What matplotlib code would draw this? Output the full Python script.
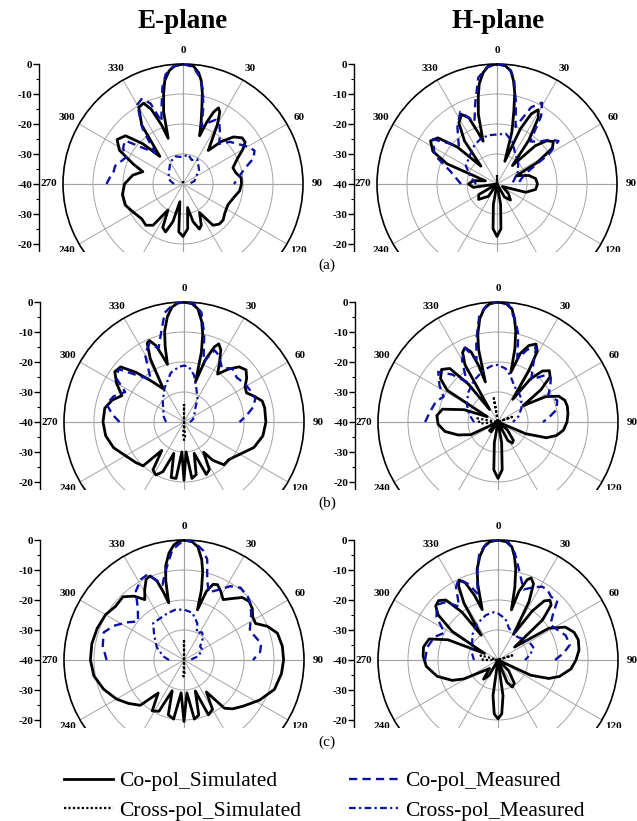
import numpy as np
import matplotlib.pyplot as plt
from matplotlib.lines import Line2D
from matplotlib.patches import Rectangle

plt.rcParams['font.family'] = ['Liberation Serif', 'DejaVu Serif']

# ---- data: (angle in degrees clockwise from broadside, level in dB) ----
EA_CO_SIM = [(0, 0), (5, -0.5), (8, -2.5), (10, -5), (12, -9), (14, -14), (16, -18), (18, -21.5), (19, -23),
             (21, -18), (23, -14), (25, -12), (27, -13), (30, -17), (33, -22), (37, -26),
             (42, -21), (47, -17), (52, -15), (56, -15), (60, -17), (65, -20), (72, -22.5), (78, -22),
             (84, -20.5), (90, -20.5), (97, -21), (105, -22.5), (115, -23.5), (125, -23), (132, -22),
             (138, -22), (144, -23), (150, -29), (156, -25), (160, -24), (165, -27), (169, -32), (174, -25),
             (180, -22.5), (185, -24), (190, -34), (195, -27), (200, -23), (205, -24), (210, -30), (216, -23),
             (222, -21.5), (230, -22), (240, -21), (250, -19.5), (260, -19.5), (270, -20.5), (280, -23),
             (287, -26), (292, -22), (298, -16), (304, -13.5), (310, -15), (315, -21), (320, -28), (325, -16),
             (330, -10.5), (334, -10), (337, -13), (340, -19), (342, -24), (345, -15), (348, -9), (350, -5),
             (353, -2), (356, -0.5), (360, 0)]
EA_CO_MEA = [(-90, -14.5), (-85, -15.5), (-80, -16.5), (-75, -16.6), (-70, -18), (-65, -19), (-60, -17),
             (-57, -16.4), (-53, -16), (-48, -22), (-42, -26), (-36, -17), (-30, -9.5), (-26, -8.5), (-22, -11),
             (-19, -18), (-16, -14), (-12, -7), (-9, -3), (-5, -0.8), (0, 0), (5, -0.8), (9, -4), (12, -8),
             (15, -14), (18, -20), (22, -18), (27, -16), (31, -16.5), (36, -19), (42, -22), (48, -19), (55, -17),
             (60, -15), (65, -13.7), (70, -15), (76, -18.8), (82, -21), (90, -23)]
EA_X_SIM = [(0, -39), (45, -40), (90, -40), (135, -40), (180, -40), (225, -40), (270, -40), (315, -40), (360, -39)]
EA_X_MEA = [(-90, -37), (-75, -35.5), (-60, -34.5), (-45, -33.5), (-30, -31.5), (-15, -30.5), (0, -31), (10, -30),
            (20, -31.5), (30, -30.5), (40, -32), (50, -33), (60, -35), (75, -36), (90, -38)]

HA_CO_SIM = [(0, 0), (4, -0.5), (7, -2), (9, -5), (11, -9), (13, -15), (16, -22), (19, -32), (23, -20), (26, -14),
             (29, -11.7), (32, -14), (36, -22), (40, -32), (45, -22), (49, -18), (53, -16.5), (57, -18), (62, -25),
             (67, -33), (75, -29), (82, -27), (90, -26.5), (98, -27), (106, -30), (115, -38), (130, -35),
             (140, -33), (150, -35), (160, -40), (170, -33), (175, -25), (180, -22.5), (185, -25), (190, -33),
             (200, -40), (215, -35), (230, -32), (240, -33), (250, -40), (262, -32), (270, -30.5), (278, -32),
             (285, -36), (292, -22), (297, -16), (303, -13.6), (308, -15), (313, -22), (318, -32), (323, -22),
             (328, -16), (333, -14), (337, -16), (340, -22), (342, -25), (345, -16), (348, -10), (350, -6),
             (353, -2.5), (356, -0.5), (360, 0)]
HA_CO_MEA = [(-90, -28), (-75, -24), (-65, -17), (-55, -14), (-45, -22), (-35, -17), (-27, -13), (-20, -18),
             (-15, -12), (-10, -4), (-5, -1), (0, 0), (5, -0.5), (9, -4), (13, -12), (18, -20), (24, -12),
             (29, -9), (33, -13), (38, -22), (45, -20), (50, -17), (55, -15), (60, -20), (70, -30), (80, -32),
             (90, -33)]
HA_X_SIM = [(0, -37), (5, -40), (90, -40), (180, -40), (270, -40), (355, -40), (360, -37)]
HA_X_MEA = [(-90, -33), (-75, -31), (-60, -28), (-45, -27), (-30, -25), (-20, -24), (-10, -23.5), (0, -23.5),
            (10, -23), (20, -25), (30, -28), (45, -30), (60, -32), (75, -34), (90, -35)]

EB_CO_SIM = [(0, 0), (4, -0.5), (7, -2), (10, -6), (12, -10), (14, -16), (16, -26), (19, -18), (22, -13),
             (24, -11.5), (27, -13), (31, -17), (35, -20.5), (40, -17), (45, -14), (50, -13), (55, -14.5),
             (60, -16.5), (65, -17), (70, -15), (75, -13), (80, -12.7), (90, -12.7), (100, -13.3), (110, -15.2),
             (120, -18.5), (130, -20.5), (137, -20.5), (143, -24), (147, -28), (152, -22), (157, -21), (162, -29),
             (167, -22), (172, -21), (176, -30), (180, -20.6), (184, -30), (188, -21), (193, -21), (198, -29),
             (203, -22), (208, -20), (213, -21), (218, -28), (223, -20), (230, -19), (240, -17.5), (250, -15),
             (260, -13.5), (270, -13), (280, -13.2), (287, -15), (293, -17.5), (300, -14), (306, -11.5),
             (311, -12), (316, -17), (322, -23), (328, -27), (332, -16), (335, -11), (337, -10.5), (340, -13),
             (342, -17), (344, -20), (346, -14), (348, -9), (351, -4.5), (354, -1.5), (357, -0.3), (360, 0)]
EB_CO_MEA = [(-90, -18.5), (-84, -16), (-77, -13.5), (-70, -15), (-63, -18), (-57, -13), (-51, -12), (-45, -18),
             (-38, -22), (-30, -14), (-24, -11.5), (-19, -14), (-15, -10), (-10, -3), (-5, -0.5), (0, 0),
             (5, -0.5), (9, -3), (13, -10), (18, -19), (23, -14), (28, -15), (35, -18), (42, -16), (50, -17),
             (58, -16), (65, -15.5), (72, -15), (78, -16.5), (84, -19), (90, -21.5)]
EB_X_SIM = [(0, -34), (6, -40), (170, -40), (176, -35), (180, -34), (184, -36), (190, -40), (354, -40), (360, -34)]
EB_X_MEA = [(-90, -34), (-75, -33), (-60, -32), (-45, -30), (-30, -27), (-15, -23), (-5, -21.5), (0, -21.2),
            (5, -21.5), (12, -24), (20, -28), (30, -31), (45, -35), (60, -36), (75, -37), (90, -38)]

HB_CO_SIM = [(0, 0), (4, -0.5), (7, -2), (9, -5), (11, -9), (13, -15), (14.5, -23), (18, -16), (22, -12.5),
             (26, -11.1), (29, -13), (31, -20), (33, -31), (37, -22), (41, -17.5), (45, -15.8), (49, -17),
             (53, -22), (57, -30), (62, -22), (67, -18), (72, -16.6), (77, -16.3), (83, -16.5), (90, -17),
             (97, -18), (103, -20), (108, -23), (113, -30), (118, -40), (130, -36), (140, -32), (146, -31.5),
             (152, -33), (160, -40), (170, -33), (175, -24), (180, -21.2), (185, -24), (190, -33), (200, -40),
             (215, -36), (225, -36), (235, -40), (245, -30), (252, -26), (260, -22), (268, -20), (276, -19.5),
             (283, -21), (290, -28), (296, -36), (302, -20), (307, -16), (313, -14.3), (318, -16), (322, -24),
             (326, -35), (330, -18), (333, -14), (336, -12.9), (339, -15), (341, -20), (342.5, -26), (345, -15),
             (347, -10), (350, -5), (353, -2), (356, -0.5), (360, 0)]
HB_CO_MEA = [(-90, -15.7), (-82, -17), (-72, -18.2), (-65, -20), (-58, -17), (-50, -14), (-44, -18), (-38, -23),
             (-30, -16), (-24, -13), (-19, -18), (-15, -12), (-10, -4), (-5, -0.5), (0, 0), (5, -0.5), (10, -6),
             (13, -10), (17, -18), (22, -14), (27, -12), (32, -18), (38, -22), (45, -18), (50, -17), (56, -19),
             (62, -21), (70, -19), (78, -20), (85, -23), (90, -25)]
HB_X_SIM = [(0, -40), (60, -40), (70, -35), (80, -40), (250, -40), (265, -34), (280, -33), (295, -40),
            (340, -40), (350, -32), (360, -40)]
HB_X_MEA = [(-90, -32), (-75, -30), (-60, -28), (-45, -26), (-30, -24), (-15, -22), (-5, -21), (0, -21), (8, -22),
            (15, -24), (25, -27), (35, -28), (45, -29), (60, -31), (75, -33), (90, -35)]

EC_CO_SIM = [(0, 0), (4, -0.5), (7, -2), (10, -6), (12, -10), (14, -16), (15, -22.7), (18, -16), (21, -13),
             (24, -12.5), (28, -14), (33, -16), (38, -14), (43, -11.5), (48, -10.8), (53, -11.5), (58, -13),
             (63, -13.2), (68, -10), (74, -7.6), (82, -6.9), (90, -6.8), (98, -7.2), (108, -8.3), (118, -11.5),
             (128, -15), (135, -17), (140, -19), (145, -27), (150, -21), (156, -20), (160, -29), (165, -21),
             (170, -20), (175, -29), (180, -19.5), (185, -29), (190, -20), (196, -21), (201, -29), (206, -21),
             (212, -20), (218, -26), (224, -19), (232, -16.5), (240, -14), (250, -11.5), (260, -9.5), (270, -8.8),
             (280, -8.8), (290, -9.2), (300, -9.8), (308, -11), (316, -10.7), (322, -13), (327, -16), (331, -13),
             (335, -10.2), (338, -9.8), (341, -12), (343, -16), (345, -20.3), (347, -13), (349, -8), (352, -4),
             (355, -1.5), (358, -0.2), (360, 0)]
EC_CO_MEA = [(-90, -14.2), (-80, -12.5), (-71, -11.7), (-64, -14), (-57, -17), (-50, -20), (-42, -17), (-35, -12),
             (-28, -9.5), (-23, -9), (-19, -12), (-16, -14), (-13, -11), (-10, -8), (-6, -3), (0, 0), (5, -0.5),
             (10, -3), (13, -5.6), (16, -12), (20, -16), (26, -14), (32, -11), (38, -9.4), (45, -10), (50, -11),
             (56, -13), (62, -15), (66, -16), (72, -15), (78, -13.7), (84, -14.5), (90, -17)]
EC_X_SIM = [(0, -33.5), (5, -40), (172, -40), (178, -35), (182, -34.5), (188, -40), (355, -40), (360, -33.5)]
EC_X_MEA = [(-90, -35), (-80, -33), (-65, -30), (-50, -27), (-40, -24), (-30, -24), (-20, -23.5), (-10, -23),
            (0, -23.2), (10, -24), (20, -27), (25, -30), (33, -29), (40, -30), (50, -33), (60, -33), (75, -35),
            (90, -38)]

HC_CO_SIM = [(0, 0), (4, -0.5), (7, -2), (9, -5), (11, -9), (13, -15), (15, -22.7), (17, -16), (20, -11.5),
             (22, -10.5), (25, -12), (28, -18), (31, -30), (35, -20), (38, -15), (41, -13.6), (44, -14.5),
             (48, -20), (52, -33), (58, -20), (64, -15), (70, -13), (76, -12.4), (83, -12.8), (90, -14),
             (97, -15.5), (105, -18.8), (110, -22), (115, -28), (120, -40), (135, -35), (145, -30.5), (152, -29.8),
             (158, -32), (165, -40), (172, -28), (176, -22), (180, -20.4), (184, -22), (188, -28), (195, -40),
             (210, -34), (217, -32), (225, -36), (235, -33), (241, -27), (246, -23.3), (255, -19), (265, -16),
             (273, -15), (280, -14.8), (287, -16), (292, -22), (296, -35), (302, -22), (307, -15), (311, -12.5),
             (315, -12), (319, -13.5), (323, -20), (326, -30), (329, -18), (332, -12), (334, -10.4), (337, -12),
             (340, -17), (342.6, -22.4), (345, -14), (347, -9), (350, -5), (353, -2), (356, -0.5), (360, 0)]
HC_CO_MEA = [(-90, -15.7), (-80, -16), (-70, -17.5), (-63, -20), (-55, -15), (-48, -12.5), (-42, -14), (-36, -18),
             (-30, -12), (-26, -10), (-21, -13), (-17, -17), (-14, -11), (-10, -4), (-5, -0.5), (0, 0), (5, -0.5),
             (9, -4), (13, -9), (16, -12), (20, -15), (26, -13), (31, -11.5), (35, -11.3), (40, -12.5), (45, -12),
             (50, -16), (56, -19), (62, -18), (70, -16), (78, -15.5), (84, -18), (90, -21)]
HC_X_SIM = [(0, -40), (60, -40), (72, -35), (85, -40), (250, -40), (270, -35), (285, -34), (300, -40), (360, -40)]
HC_X_MEA = [(-90, -32), (-75, -31), (-60, -30), (-45, -28), (-30, -26), (-15, -24.5), (-5, -24), (0, -24.5),
            (10, -26), (20, -29), (30, -29), (40, -30), (50, -29), (60, -28), (70, -27.5), (80, -29), (90, -31)]

THETA_TICKS = list(range(0, 360, 30))
HIDDEN_TICKS = [150, 180, 210]          # fall below the cut, never seen
SCALE_POS = [40, 30, 20, 10, 0, -10, -20]
SCALE_LBL = ['0', '-10', '-20', '-30', '-40', '-30', '-20']
TITLES = ['E-plane', 'H-plane']
ROW_TAGS = ['(a)', '(b)', '(c)']
LEGEND_LABELS = ['Co-pol_Simulated', 'Cross-pol_Simulated', 'Co-pol_Measured', 'Cross-pol_Measured']

# ---- layout (pixels) ----
W, H = 637, 821
R = 120          # polar radius
CLIP = 68        # visible part below the centre
BLUE = '#0b12a3'
GRID = '#a5a5a5'

rows = [
    (184, [(183, 39, [EA_CO_SIM, EA_X_SIM, EA_CO_MEA, EA_X_MEA]),
           (497, 354, [HA_CO_SIM, HA_X_SIM, HA_CO_MEA, HA_X_MEA])]),
    (422, [(184, 40, [EB_CO_SIM, EB_X_SIM, EB_CO_MEA, EB_X_MEA]),
           (498, 355, [HB_CO_SIM, HB_X_SIM, HB_CO_MEA, HB_X_MEA])]),
    (660, [(184, 40, [EC_CO_SIM, EC_X_SIM, EC_CO_MEA, EC_X_MEA]),
           (498, 354, [HC_CO_SIM, HC_X_SIM, HC_CO_MEA, HC_X_MEA])]),
]

styles = [
    dict(color='black', lw=2.0, ls='-'),
    dict(color='black', lw=1.6, ls=(0, (1, 1))),
    dict(color=BLUE, lw=1.7, ls=(0, (3.5, 2.2))),
    dict(color=BLUE, lw=1.6, ls=(0, (3, 1.5, 1, 1.5))),
]

fig = plt.figure(figsize=(W / 100, H / 100), dpi=100)


def polar_panel(cx, cy, curves, z):
    ax = fig.add_axes([(cx - R) / W, 1 - (cy + R) / H, 2 * R / W, 2 * R / H], projection='polar', zorder=z)
    ax.set_theta_zero_location('N')
    ax.set_theta_direction(-1)
    ax.set_ylim(-40, 0)
    ax.set_rgrids([-30, -20, -10], labels=[])
    ax.set_thetagrids(THETA_TICKS, labels=['' if t in HIDDEN_TICKS else str(t) for t in THETA_TICKS],
                      fontsize=8, fontweight='bold')
    ax.tick_params(axis='x', pad=-0.5)
    ax.grid(True, color=GRID, lw=0.7)
    ax.spines['polar'].set_linewidth(1.2)
    for a in (0, 90, 180, 270):
        ax.axvline(np.deg2rad(a), color='#6a6a6a', lw=0.8, zorder=1)
    for pts, st in zip(curves, styles):
        ang, db = zip(*pts)
        ax.plot(np.deg2rad(ang), np.clip(db, -40, 0), zorder=3, **st)
    return ax


def scale_axis(x, cy, z):
    sa = fig.add_axes([x / W, 1 - (cy + CLIP) / H, 0.0001, (R + CLIP) / H], zorder=z)
    sa.set_ylim(-CLIP / 3, 40)
    for s in ('top', 'right', 'bottom'):
        sa.spines[s].set_visible(False)
    sa.spines['left'].set_linewidth(1.0)
    sa.set_xticks([])
    sa.set_yticks(SCALE_POS)
    sa.set_yticklabels(SCALE_LBL, fontsize=8, fontweight='bold')
    sa.set_yticks([35, 25, 15, 5, -5, -15], minor=True)
    sa.tick_params(axis='y', which='major', length=4, width=1.0, pad=1)
    sa.tick_params(axis='y', which='minor', length=2, width=0.8)
    sa.patch.set_visible(False)


for i, (cy, pans) in enumerate(rows):
    z = 2 * i + 1
    for cx, sx, curves in pans:
        polar_panel(cx, cy, curves, z)
        scale_axis(sx, cy, z)
    # white band hides the lower part of this row's polar plots; the next row sits on top of it
    top = cy + CLIP
    fig.add_artist(Rectangle((0, 1 - (top + 95) / H), 1, 95 / H, transform=fig.transFigure,
                             facecolor='white', edgecolor='none', zorder=z + 1))

for tag, cy in zip(ROW_TAGS, (265, 503, 742)):
    fig.text(327 / W, 1 - cy / H, tag, ha='center', va='center', fontsize=11, zorder=20)

for title, x in zip(TITLES, (183, 498)):
    fig.text(x / W, 1 - 22 / H, title, ha='center', va='center', fontsize=19.5, fontweight='bold', zorder=20)

handles = [Line2D([], [], **st) for st in styles]
leg = fig.legend(handles, LEGEND_LABELS, ncol=2, loc='center', bbox_to_anchor=(324 / W, 1 - 796 / H),
                 frameon=False, fontsize=15.5, handlelength=2.3, handletextpad=0.3, columnspacing=2.2,
                 labelspacing=0.42, borderpad=0)
leg.set_zorder(20)

fig.savefig('out.png', dpi=100, facecolor='white')
